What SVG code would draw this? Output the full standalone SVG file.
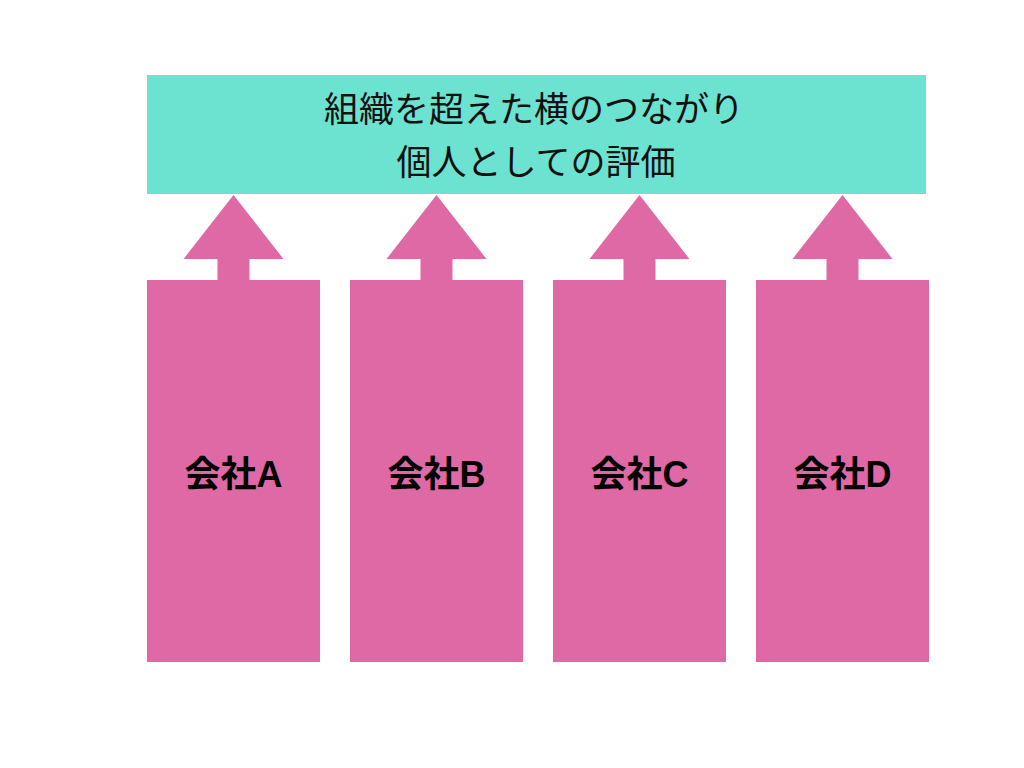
<svg xmlns="http://www.w3.org/2000/svg" width="1024" height="768" viewBox="0 0 1024 768">
<style>
.pink{fill:#DE69A4}
.top{fill:#6CE2D0}
.t1{font-family:"Noto Sans CJK JP","Noto Sans CJK SC",sans-serif;font-size:35px;fill:#111;text-anchor:middle}
.lbl{font-family:"Liberation Sans","Noto Sans CJK JP",sans-serif;font-size:36px;font-weight:bold;fill:#000;text-anchor:middle}
</style>
<defs>
<path id="arrow" d="M0,195 L50,259 L16,259 L16,281 L-16,281 L-16,259 L-50,259 Z"/>
</defs>
<rect width="1024" height="768" fill="#fff"/>
<g id="top">
<rect class="top" x="147" y="75" width="779" height="119"/>
<text class="t1" x="534" y="122">組織を超えた横のつながり</text>
<text class="t1" x="536" y="175">個人としての評価</text>
</g>
<g id="connectors">
<use href="#arrow" class="pink" x="233.5"/>
<use href="#arrow" class="pink" x="436.5"/>
<use href="#arrow" class="pink" x="639.5"/>
<use href="#arrow" class="pink" x="842.5"/>
</g>
<g id="companyA">
<rect class="pink" x="147" y="280" width="173" height="382"/>
<text class="lbl" x="233.5" y="487">会社A</text>
</g>
<g id="companyB">
<rect class="pink" x="350" y="280" width="173" height="382"/>
<text class="lbl" x="436.5" y="487">会社B</text>
</g>
<g id="companyC">
<rect class="pink" x="553" y="280" width="173" height="382"/>
<text class="lbl" x="639.5" y="487">会社C</text>
</g>
<g id="companyD">
<rect class="pink" x="756" y="280" width="173" height="382"/>
<text class="lbl" x="842.5" y="487">会社D</text>
</g>
</svg>
